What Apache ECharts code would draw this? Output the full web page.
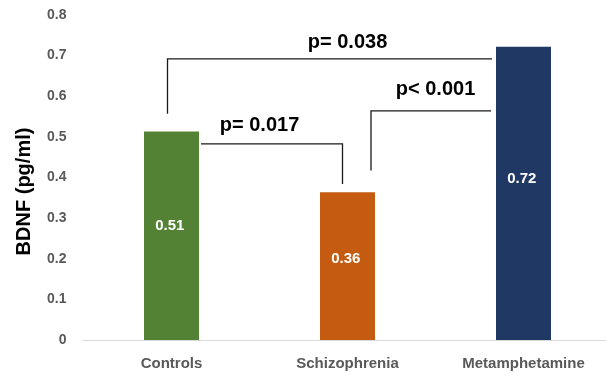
<!DOCTYPE html>
<html><head><meta charset="utf-8">
<script src="https://cdn.jsdelivr.net/npm/echarts@6/dist/echarts.min.js"></script>
<style>html,body{margin:0;padding:0;background:#fff}#c{width:606px;height:378px}</style>
</head><body><div id="c"></div>
<script>
const categories = ['Controls', 'Schizophrenia', 'Metamphetamine'];
const values = [0.513, 0.364, 0.722];
const barColors = ['#548235', '#C55A11', '#1F3864'];
const yTicks = [0, 0.1, 0.2, 0.3, 0.4, 0.5, 0.6, 0.7, 0.8];
// comparisons: [from category, to category, p text]
const pTexts = ['p= 0.038', 'p= 0.017', 'p< 0.001'];
const pPairs = [[0, 2], [0, 1], [1, 2]];

const chart = echarts.init(document.getElementById('c'));
chart.setOption({
  animation: false,
  grid: {left: 83.5, right: -5.5, top: 15, bottom: 38, outerBoundsMode: 'none', containLabel: false},
  xAxis: {
    type: 'category', data: categories,
    axisLine: {lineStyle: {color: '#d9d9d9', width: 1}},
    axisTick: {show: false},
    axisLabel: {color: '#595959', fontWeight: 'bold', fontSize: 15, fontFamily: 'Liberation Sans', margin: 16}
  },
  yAxis: {
    type: 'value', min: 0, max: 0.8, interval: 0.1,
    name: 'BDNF (pg/ml)', nameLocation: 'middle', nameGap: 49,
    nameTextStyle: {color: '#000', fontWeight: 'bold', fontSize: 20, fontFamily: 'Liberation Sans', padding: [0, 28, 0, 0]},
    axisLine: {show: false}, axisTick: {show: false}, splitLine: {show: false},
    axisLabel: {color: '#595959', fontWeight: 'bold', fontSize: 14, fontFamily: 'Liberation Sans', margin: 17,
      formatter: v => yTicks.includes(Math.round(v * 10) / 10) ? (Math.round(v * 10) / 10).toString() : ''}
  },
  series: [{
    type: 'bar', barWidth: 55,
    data: values.map((v, i) => ({value: v, itemStyle: {color: barColors[i]}})),
    label: {show: true, position: ['47%', '45%'], align: 'center', verticalAlign: 'middle',
      color: '#fff', fontWeight: 'bold', fontSize: 15, fontFamily: 'Liberation Sans',
      formatter: p => p.value.toFixed(2)}
  }]
});

function px(ci, v) { return chart.convertToPixel({gridIndex: 0}, [ci, v]); }
const half = 55 / 2;
const lineStyle = {stroke: '#1a1a1a', lineWidth: 1.3, fill: null};
const g = [];
function poly(pts) { g.push({type: 'polyline', shape: {points: pts}, style: lineStyle, silent: true}); }
function txt(x, y, s) {
  g.push({type: 'text', x: x, y: y, style: {text: s, fill: '#000', font: 'bold 20px "Liberation Sans"', textAlign: 'center', textVerticalAlign: 'middle'}, silent: true});
}
// bracket 0-2
{
  const [a, b] = pPairs[0];
  const xl = px(a, 0)[0] - 4, xr = px(b, 0)[0] - half - 4;
  const yb = px(a, 0.557)[1], yt = px(a, 0.692)[1];
  poly([[xl, yb], [xl, yt], [xr, yt]]);
  txt((px(a, 0)[0] + px(b, 0)[0]) / 2, px(a, 0.732)[1], pTexts[0]);
}
// bracket 0-1
{
  const [a, b] = pPairs[1];
  const xl = px(a, 0)[0] + half + 2, xr = px(b, 0)[0] - 5;
  const yt = px(a, 0.483)[1], yb = px(a, 0.384)[1];
  poly([[xl, yt], [xr, yt], [xr, yb]]);
  txt((px(a, 0)[0] + px(b, 0)[0]) / 2, px(a, 0.527)[1], pTexts[1]);
}
// bracket 1-2
{
  const [a, b] = pPairs[2];
  const xl = px(a, 0)[0] + half - 4, xr = px(b, 0)[0] - half - 5;
  const yb = px(a, 0.417)[1], yt = px(a, 0.564)[1];
  poly([[xl, yb], [xl, yt], [xr, yt]]);
  txt((px(a, 0)[0] + px(b, 0)[0]) / 2, px(a, 0.616)[1], pTexts[2]);
}
chart.setOption({graphic: g});
</script></body></html>
